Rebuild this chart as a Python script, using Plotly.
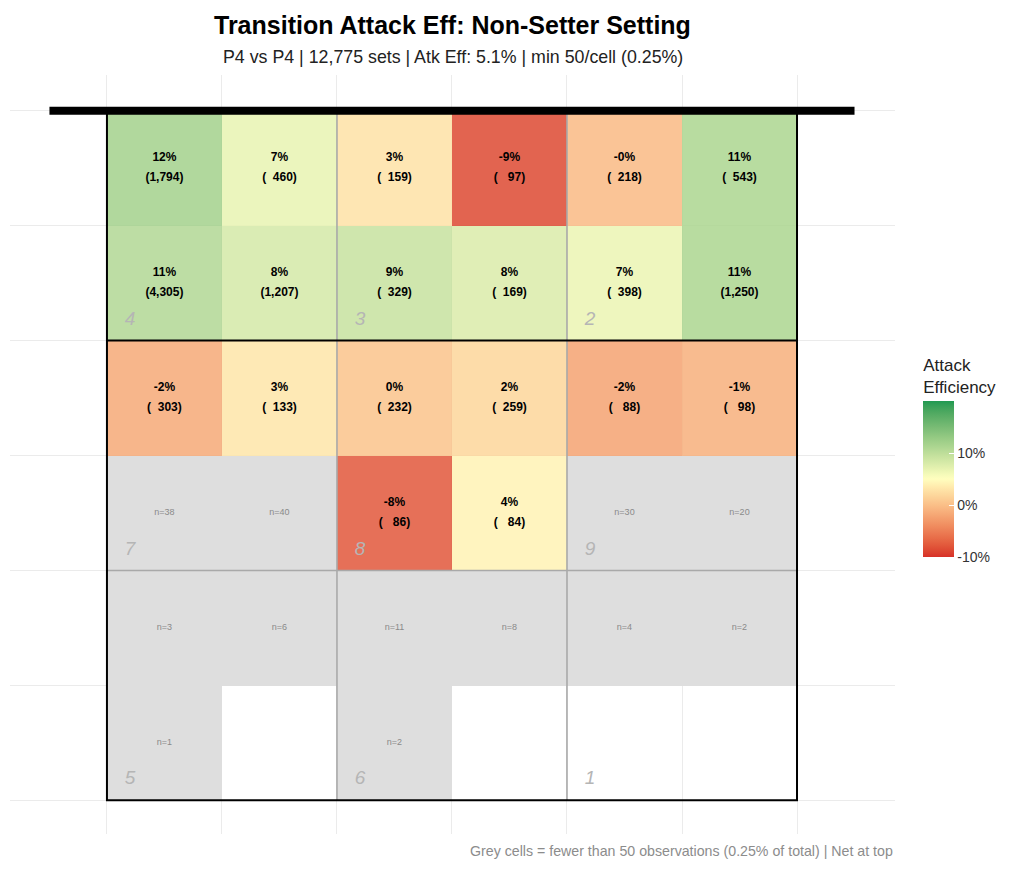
import plotly.graph_objects as go

TITLE = "Transition Attack Eff: Non-Setter Setting"
SUBTITLE = "P4 vs P4 | 12,775 sets | Atk Eff: 5.1% | min 50/cell (0.25%)"
CAPTION = "Grey cells = fewer than 50 observations (0.25% of total) | Net at top"

# rows listed from the net (top) to the back line (bottom), columns left to right
eff_rows = [
    [0.118, 0.068, 0.028, -0.087, -0.004, 0.112],
    [0.108, 0.083, 0.093, 0.078, 0.066, 0.112],
    [-0.017, 0.031, 0.003, 0.018, -0.022, -0.012],
    [None, None, -0.078, 0.041, None, None],
    [None, None, None, None, None, None],
    [None, None, None, None, None, None],
]
count_rows = [
    [1794, 460, 159, 97, 218, 543],
    [4305, 1207, 329, 169, 398, 1250],
    [303, 133, 232, 259, 88, 98],
    [38, 40, 86, 84, 30, 20],
    [3, 6, 11, 8, 4, 2],
    [1, 0, 2, 0, 0, 0],
]
zone_names = [
    ["4", "3", "2"],
    ["7", "8", "9"],
    ["5", "6", "1"],
]
min_n = 50
overall_eff = 0.051
eff_limits = [-0.1, 0.2]
bar_ticks = [-0.1, 0.0, 0.1]
bar_labels = ["-10%", "0%", "10%"]

FONT = "Liberation Sans, Arial, sans-serif"
LOW, MID, HIGH = "#d73027", "#ffffbf", "#1a9850"


# ggplot style gradient2 (interpolated in Lab space)
def hex_to_lab(h):
    def lin(c):
        return c / 12.92 if c <= 0.04045 else ((c + 0.055) / 1.055) ** 2.4
    r, g, b = [lin(int(h[i:i + 2], 16) / 255) for i in (1, 3, 5)]
    x = (0.4124 * r + 0.3576 * g + 0.1805 * b) / 0.95047
    y = 0.2126 * r + 0.7152 * g + 0.0722 * b
    z = (0.0193 * r + 0.1192 * g + 0.9505 * b) / 1.08883
    f = lambda t: t ** (1 / 3) if t > 0.008856 else 7.787 * t + 16 / 116
    fx, fy, fz = f(x), f(y), f(z)
    return (116 * fy - 16, 500 * (fx - fy), 200 * (fy - fz))


def lab_to_hex(lab):
    L, a, b = lab
    fy = (L + 16) / 116
    fx, fz = fy + a / 500, fy - b / 200
    finv = lambda t: t ** 3 if t ** 3 > 0.008856 else (t - 16 / 116) / 7.787
    x, y, z = finv(fx) * 0.95047, finv(fy), finv(fz) * 1.08883
    r = 3.2406 * x - 1.5372 * y - 0.4986 * z
    g = -0.9689 * x + 1.8758 * y + 0.0415 * z
    bl = 0.0557 * x - 0.2040 * y + 1.0570 * z

    def gam(c):
        c = max(c, 0)
        c = 12.92 * c if c <= 0.0031308 else 1.055 * c ** (1 / 2.4) - 0.055
        return min(max(c, 0), 1)
    return "#%02x%02x%02x" % tuple(round(gam(c) * 255) for c in (r, g, bl))


def mix(c1, c2, t):
    a, b = hex_to_lab(c1), hex_to_lab(c2)
    return lab_to_hex([a[i] + (b[i] - a[i]) * t for i in range(3)])


lo, hi = eff_limits
span = max(overall_eff - lo, hi - overall_eff)
colorscale = []
for i in range(41):
    v = lo + (hi - lo) * i / 40
    s = 0.5 + (v - overall_eff) / (2 * span)
    if s < 0.5:
        col = mix(LOW, MID, s / 0.5)
    else:
        col = mix(MID, HIGH, (s - 0.5) / 0.5)
    colorscale.append([i / 40, col])

n_rows = len(count_rows)
n_cols = len(count_rows[0])
xs = [c + 0.5 for c in range(n_cols)]
ys = [n_rows - r - 0.5 for r in range(n_rows)]

z_col, z_grey = [], []
pct_x, pct_y, pct_t, cnt_y, cnt_t = [], [], [], [], []
gx, gy, gt = [], [], []
for r in range(n_rows):
    row_c, row_g = [], []
    for c in range(n_cols):
        n = count_rows[r][c]
        e = eff_rows[r][c]
        if n >= min_n:
            row_c.append(e)
            row_g.append(None)
            pct_x.append(xs[c])
            pct_y.append(ys[r] + 0.085)
            cnt_y.append(ys[r] - 0.085)
            pct_t.append("<b>%.0f%%</b>" % (e * 100))
            cnt_t.append("<b>(" + f"{n:,}".rjust(5).replace(" ", "\u00a0") + ")</b>")
        elif n > 0:
            row_c.append(None)
            row_g.append(1)
            gx.append(xs[c])
            gy.append(ys[r])
            gt.append(f"n={n}")
        else:
            row_c.append(None)
            row_g.append(None)
    z_col.append(row_c)
    z_grey.append(row_g)

fig = go.Figure()

fig.add_trace(go.Heatmap(
    x=xs, y=ys, z=z_grey, colorscale=[[0, "#dedede"], [1, "#dedede"]],
    showscale=False, hoverinfo="skip",
))
fig.add_trace(go.Heatmap(
    x=xs, y=ys, z=z_col, zmin=lo, zmax=hi, colorscale=colorscale,
    opacity=0.85,
    colorbar=dict(
        title=dict(text="Attack<br>Efficiency", side="top",
                   font=dict(size=17, color="#222", family=FONT)),
        thickness=31, lenmode="pixels", len=222,
        x=1.0205, xanchor="left", y=0.498, yanchor="middle",
        tickvals=bar_ticks, ticktext=bar_labels,
        tickfont=dict(size=14, color="#333", family=FONT),
        ticks="inside", tickcolor="white", ticklen=5,
        outlinewidth=0,
    ),
))

fig.add_trace(go.Scatter(
    x=pct_x, y=pct_y, text=pct_t, mode="text", hoverinfo="skip",
    textfont=dict(size=12, color="black", family=FONT), showlegend=False,
))
fig.add_trace(go.Scatter(
    x=pct_x, y=cnt_y, text=cnt_t, mode="text", hoverinfo="skip",
    textfont=dict(size=12, color="black", family=FONT), showlegend=False,
))
fig.add_trace(go.Scatter(
    x=gx, y=gy, text=gt, mode="text", hoverinfo="skip",
    textfont=dict(size=9, color="#8a8a8a", family=FONT), showlegend=False,
))

# zone numbers, bottom-left of every 2x2 zone
zx, zy, zt = [], [], []
for zr, names in enumerate(zone_names):
    for zc, name in enumerate(names):
        zx.append(zc * 2 + 0.2)
        zy.append(n_rows - (zr + 1) * 2 + 0.18)
        zt.append(f"<i>{name}</i>")
fig.add_trace(go.Scatter(
    x=zx, y=zy, text=zt, mode="text", hoverinfo="skip",
    textfont=dict(size=19, color="#b5b5b5", family=FONT), showlegend=False,
))

grey_line = dict(color="#a9a9a9", width=1.6)
black_line = dict(color="black", width=2)
for xv in (2, 4):
    fig.add_shape(type="line", x0=xv, x1=xv, y0=0, y1=n_rows, line=grey_line)
fig.add_shape(type="line", x0=0, x1=n_cols, y0=2, y1=2, line=grey_line)
fig.add_shape(type="line", x0=0, x1=n_cols, y0=4, y1=4, line=black_line)
fig.add_shape(type="rect", x0=0, x1=n_cols, y0=0, y1=n_rows, line=black_line)
fig.add_shape(type="line", x0=-0.5, x1=n_cols + 0.5, y0=n_rows, y1=n_rows,
              line=dict(color="black", width=8))

fig.add_annotation(text=f"<b>{TITLE}</b>", xref="paper", yref="paper",
                   x=0.5, y=1.0659, xanchor="center", yanchor="middle",
                   showarrow=False, font=dict(size=25, color="black", family=FONT))
fig.add_annotation(text=SUBTITLE, xref="paper", yref="paper",
                   x=0.5, y=1.0237, xanchor="center", yanchor="middle",
                   showarrow=False, font=dict(size=17.8, color="#222", family=FONT))
fig.add_annotation(text=CAPTION, xref="paper", yref="paper",
                   x=1.0, y=-0.0224, xanchor="right", yanchor="middle",
                   showarrow=False, font=dict(size=14.2, color="#8c8c8c", family=FONT))

axis = dict(showgrid=True, gridcolor="#ebebeb", gridwidth=1, dtick=1, tick0=0,
            showticklabels=False, zeroline=False, showline=False, ticks="")
fig.update_xaxes(range=[-0.843, 6.852], **axis)
fig.update_yaxes(range=[-0.293, 6.311], **axis)
# the page body adds an 8px offset, so the figure is 8px smaller on each side
fig.update_layout(
    width=1016, height=867,
    margin=dict(l=2, r=129, t=67, b=41),
    plot_bgcolor="white", paper_bgcolor="white",
    font=dict(family=FONT),
    showlegend=False,
)

fig.write_html("out.html")
